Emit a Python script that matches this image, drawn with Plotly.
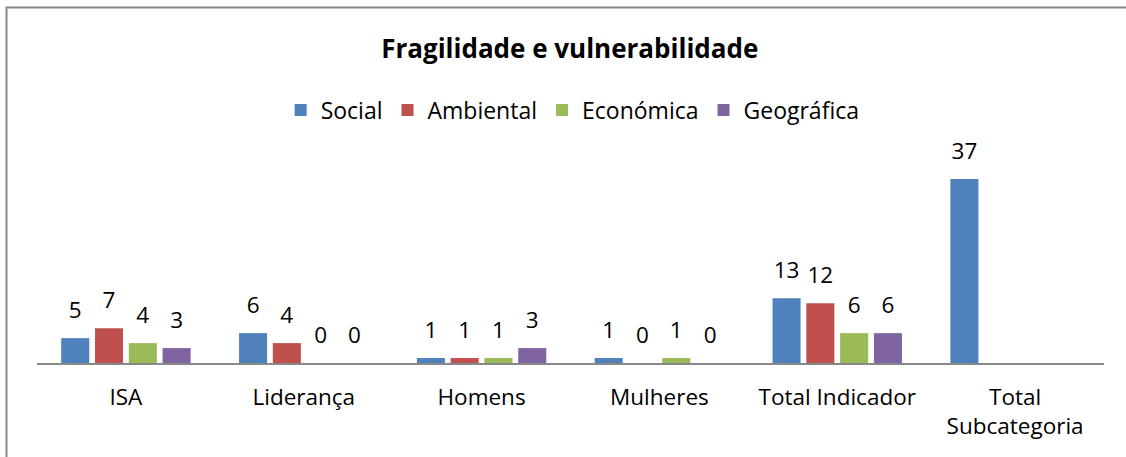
import plotly.graph_objects as go

categories = ["ISA", "Liderança", "Homens", "Mulheres", "Total Indicador", "Total Subcategoria"]
tick_labels = ["ISA", "Liderança", "Homens", "Mulheres", "Total Indicador", "Total<br>Subcategoria"]
series_names = ["Social", "Ambiental", "Económica", "Geográfica"]
social = [5, 6, 1, 1, 13, 37]
ambiental = [7, 4, 1, 0, 12, None]
economica = [4, 0, 1, 1, 6, None]
geografica = [3, 0, 3, 0, 6, None]
colors = ["#4F81BD", "#C0504D", "#9BBB59", "#8064A2"]

FONT = "Open Sans"
FS = 22.5
LABEL_LIFT = 2.0  # data units of empty space between bar top and its label

fig = go.Figure()
for i, (name, vals, col) in enumerate(zip(series_names, [social, ambiental, economica, geografica], colors)):
    fig.add_trace(go.Bar(
        x=categories, y=vals, name=name, offsetgroup=str(i),
        marker=dict(color=col, line=dict(width=0)),
    ))
for i, vals in enumerate([social, ambiental, economica, geografica]):
    # transparent twin bar that only carries the value label, lifted a little
    fig.add_trace(go.Bar(
        x=categories, y=vals, base=LABEL_LIFT, offsetgroup=str(i), showlegend=False,
        marker=dict(color="rgba(0,0,0,0)", line=dict(width=0)), hoverinfo="skip",
        text=[("" if v is None else str(v)) for v in vals],
        textposition="outside", cliponaxis=False,
        textfont=dict(family=FONT, size=FS, color="#000000"),
    ))

W, H = 1126, 457
L, R, T, B = 37, 22, 164, 94
pw = W - L - R
ph = H - T - B

fig.update_layout(
    width=W, height=H,
    margin=dict(l=L, r=R, t=T, b=B, pad=0),
    paper_bgcolor="white", plot_bgcolor="white",
    barmode="group", bargap=0.24, bargroupgap=0.17,
    font=dict(family=FONT, size=FS, color="#000000"),
    title=dict(text="<b>Fragilidade e vulnerabilidade</b>", x=0.506, xanchor="center",
               y=1 - 49 / H, yanchor="middle", yref="container",
               font=dict(family=FONT, size=26, color="#000000")),
    legend=dict(orientation="h", x=0.502, xanchor="center", y=(363 - 110) / ph, yanchor="middle",
                font=dict(family=FONT, size=23), itemwidth=30, traceorder="normal"),
    xaxis=dict(tickvals=categories, ticktext=tick_labels, showline=True, linecolor="#888888",
               linewidth=2, ticks="", showgrid=False, ticklabelstandoff=13,
               tickfont=dict(family=FONT, size=FS)),
    yaxis=dict(range=[0, 40], visible=False, showgrid=False, zeroline=False),
    shapes=[dict(type="rect", xref="paper", yref="paper",
                 x0=(6.5 - L) / pw, x1=(W + 40 - L) / pw,
                 y0=(363 - (H + 40)) / ph, y1=(363 - 7.5) / ph,
                 line=dict(color="#878787", width=2), layer="above")],
)

fig.write_html("out.html", config={"displayModeBar": False},
               post_script="document.body.style.margin='0';document.body.style.overflow='hidden';")
